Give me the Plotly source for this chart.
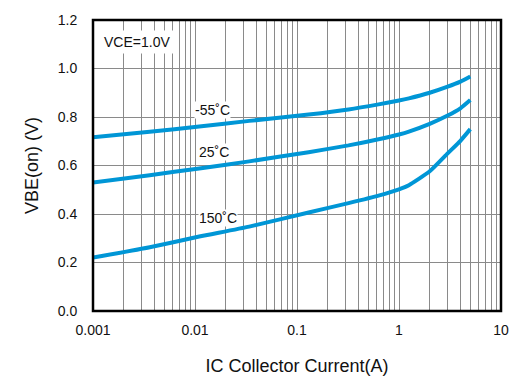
import math
import plotly.graph_objects as go

# Collector current (A)
ic = [0.001, 0.0036, 0.011, 0.034, 0.13, 0.32, 0.63, 1.0, 1.25, 2.0, 3.0, 4.0, 5.0]
vbe_m55 = [0.716, 0.739, 0.761, 0.784, 0.810, 0.831, 0.852, 0.868, 0.877, 0.900, 0.925, 0.946, 0.967]
vbe_25 = [0.530, 0.560, 0.588, 0.617, 0.655, 0.683, 0.708, 0.728, 0.740, 0.772, 0.806, 0.836, 0.870]
vbe_150 = [0.220, 0.263, 0.307, 0.348, 0.406, 0.445, 0.476, 0.502, 0.519, 0.576, 0.650, 0.702, 0.750]

series_names = ["-55˚C", "25˚C", "150˚C"]
label_ic = [0.0150, 0.0154, 0.0168]
label_v = [0.828, 0.656, 0.382]

x_tickvals = [0.001, 0.01, 0.1, 1, 10]
x_ticktext = ["0.001", "0.01", "0.1", "1", "10"]
y_tickvals = [0.0, 0.2, 0.4, 0.6, 0.8, 1.0, 1.2]
y_ticktext = ["0.0", "0.2", "0.4", "0.6", "0.8", "1.0", "1.2"]

line_color = "#0096d6"
grid_color = "#8a8a8a"
font_family = "Liberation Sans, Arial, sans-serif"

fig = go.Figure()
for ys, name in [(vbe_m55, series_names[0]), (vbe_25, series_names[1]), (vbe_150, series_names[2])]:
    fig.add_trace(go.Scatter(x=ic, y=ys, mode="lines", name=name,
                             line=dict(color=line_color, width=4, shape="spline", smoothing=0.5),
                             showlegend=False))

for name, lx, ly in zip(series_names, label_ic, label_v):
    fig.add_annotation(x=math.log10(lx), y=ly, xref="x", yref="y", text=name, showarrow=False,
                       font=dict(family=font_family, size=14, color="#111"),
                       bgcolor="white", borderpad=0)

fig.add_annotation(x=math.log10(0.00116), y=1.111, xref="x", yref="y", text="VCE=1.0V",
                   showarrow=False, xanchor="left",
                   font=dict(family=font_family, size=14, color="#111"),
                   bgcolor="white", borderpad=3)

fig.add_shape(type="rect", xref="paper", yref="paper", x0=0, y0=0, x1=1, y1=1,
              line=dict(color="black", width=2.5), layer="above")

fig.update_layout(
    width=521, height=389,
    margin=dict(l=93, r=18, t=16, b=78),
    paper_bgcolor="white", plot_bgcolor="white",
    font=dict(family=font_family, size=14, color="#111"),
    xaxis=dict(type="log", range=[-3, 1],
               tickvals=x_tickvals, ticktext=x_ticktext,
               showgrid=True, gridcolor=grid_color, gridwidth=1.2,
               minor=dict(dtick="D1", showgrid=True, gridcolor=grid_color, gridwidth=1.2, ticks=""),
               showline=False,
               ticks="outside", ticklen=6, tickcolor="rgba(0,0,0,0)",
               zeroline=False,
               title=dict(text="IC Collector Current(A)", font=dict(size=18), standoff=22)),
    yaxis=dict(range=[0, 1.2], tickvals=y_tickvals, ticktext=y_ticktext,
               showgrid=True, gridcolor=grid_color, gridwidth=1.2,
               showline=False,
               ticks="outside", ticklen=12, tickcolor="rgba(0,0,0,0)",
               zeroline=False,
               title=dict(text="VBE(on) (V)", font=dict(size=18), standoff=14)),
)

fig.write_html("out.html")
